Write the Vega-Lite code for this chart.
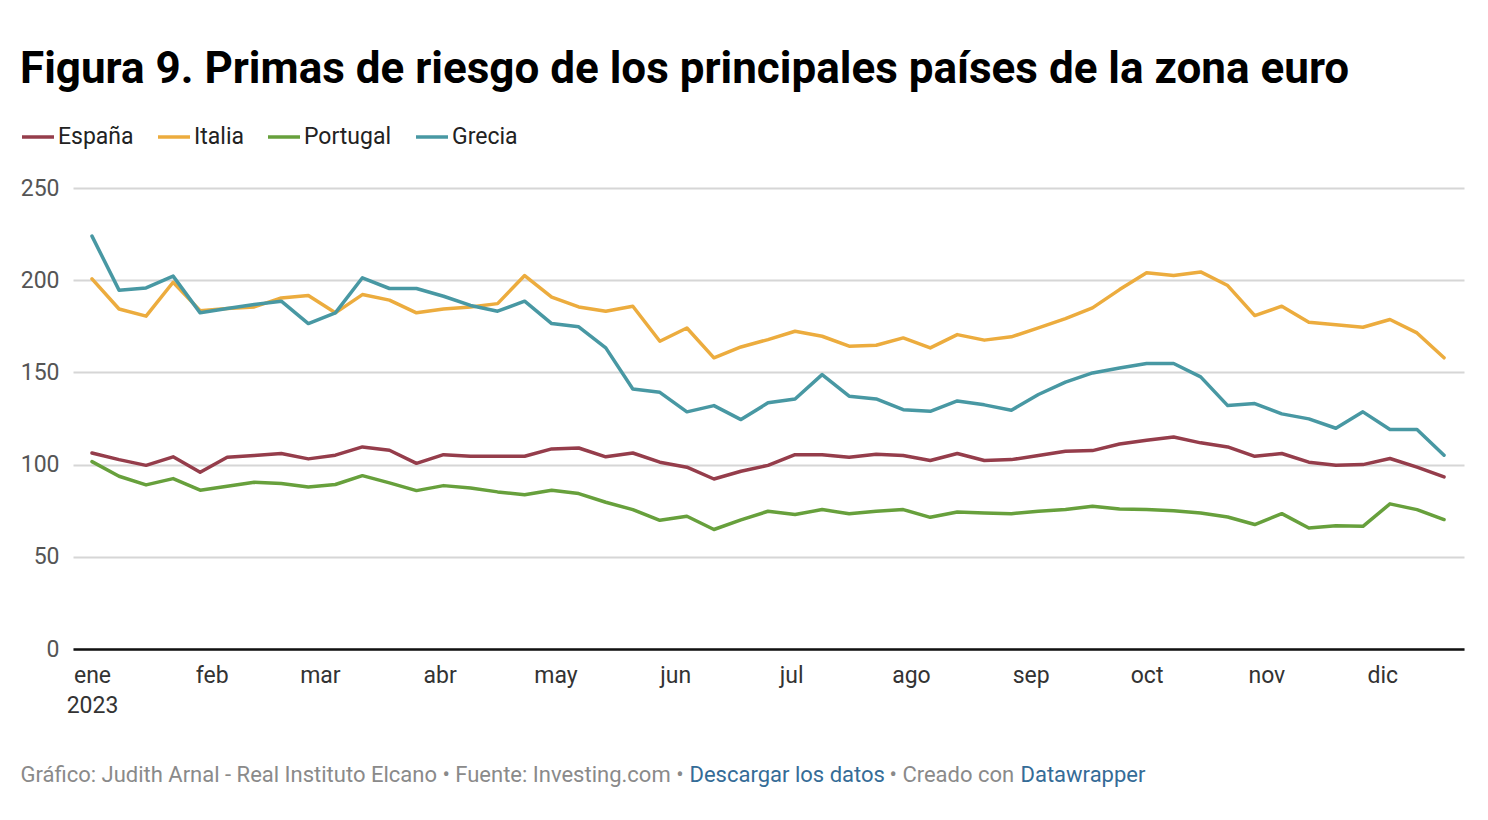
{
  "$schema": "https://vega.github.io/schema/vega-lite/v6.json",
  "width": 1391,
  "height": 461,
  "autosize": "none",
  "padding": {"left": 73, "top": 188, "right": 24, "bottom": 171},
  "background": "#ffffff",
  "title": {
    "text": "Figura 9. Primas de riesgo de los principales países de la zona euro",
    "anchor": "start",
    "frame": "group",
    "orient": "top",
    "dx": -53,
    "offset": 27,
    "font": "Roboto",
    "fontSize": 44,
    "fontWeight": "bold",
    "color": "#000000"
  },
  "data": {
    "values": [
      {"d":"2023-01-01","p":"España","v":106.3},{"d":"2023-01-08","p":"España","v":102.7},{"d":"2023-01-15","p":"España","v":99.6},{"d":"2023-01-22","p":"España","v":104.2},{"d":"2023-01-29","p":"España","v":95.8},{"d":"2023-02-05","p":"España","v":104.0},{"d":"2023-02-12","p":"España","v":104.9},{"d":"2023-02-19","p":"España","v":106.0},{"d":"2023-02-26","p":"España","v":103.1},{"d":"2023-03-05","p":"España","v":105.1},{"d":"2023-03-12","p":"España","v":109.6},{"d":"2023-03-19","p":"España","v":107.8},{"d":"2023-03-26","p":"España","v":100.7},{"d":"2023-04-02","p":"España","v":105.4},{"d":"2023-04-09","p":"España","v":104.5},{"d":"2023-04-16","p":"España","v":104.5},{"d":"2023-04-23","p":"España","v":104.5},{"d":"2023-04-30","p":"España","v":108.5},{"d":"2023-05-07","p":"España","v":109.0},{"d":"2023-05-14","p":"España","v":104.2},{"d":"2023-05-21","p":"España","v":106.3},{"d":"2023-05-28","p":"España","v":101.3},{"d":"2023-06-04","p":"España","v":98.6},{"d":"2023-06-11","p":"España","v":92.2},{"d":"2023-06-18","p":"España","v":96.4},{"d":"2023-06-25","p":"España","v":99.6},{"d":"2023-07-02","p":"España","v":105.4},{"d":"2023-07-09","p":"España","v":105.4},{"d":"2023-07-16","p":"España","v":104.0},{"d":"2023-07-23","p":"España","v":105.6},{"d":"2023-07-30","p":"España","v":104.9},{"d":"2023-08-06","p":"España","v":102.2},{"d":"2023-08-13","p":"España","v":106.0},{"d":"2023-08-20","p":"España","v":102.2},{"d":"2023-08-27","p":"España","v":102.7},{"d":"2023-09-03","p":"España","v":104.9},{"d":"2023-09-10","p":"España","v":107.2},{"d":"2023-09-17","p":"España","v":107.6},{"d":"2023-09-24","p":"España","v":111.2},{"d":"2023-10-01","p":"España","v":113.2},{"d":"2023-10-08","p":"España","v":115.0},{"d":"2023-10-15","p":"España","v":111.8},{"d":"2023-10-22","p":"España","v":109.6},{"d":"2023-10-29","p":"España","v":104.5},{"d":"2023-11-05","p":"España","v":106.0},{"d":"2023-11-12","p":"España","v":101.3},{"d":"2023-11-19","p":"España","v":99.6},{"d":"2023-11-26","p":"España","v":100.0},{"d":"2023-12-03","p":"España","v":103.3},{"d":"2023-12-10","p":"España","v":98.6},{"d":"2023-12-17","p":"España","v":93.3},
      {"d":"2023-01-01","p":"Italia","v":200.7},{"d":"2023-01-08","p":"Italia","v":184.4},{"d":"2023-01-15","p":"Italia","v":180.5},{"d":"2023-01-22","p":"Italia","v":198.9},{"d":"2023-01-29","p":"Italia","v":183.5},{"d":"2023-02-05","p":"Italia","v":184.6},{"d":"2023-02-12","p":"Italia","v":185.5},{"d":"2023-02-19","p":"Italia","v":190.4},{"d":"2023-02-26","p":"Italia","v":191.7},{"d":"2023-03-05","p":"Italia","v":182.3},{"d":"2023-03-12","p":"Italia","v":192.2},{"d":"2023-03-19","p":"Italia","v":189.2},{"d":"2023-03-26","p":"Italia","v":182.3},{"d":"2023-04-02","p":"Italia","v":184.4},{"d":"2023-04-09","p":"Italia","v":185.5},{"d":"2023-04-16","p":"Italia","v":187.3},{"d":"2023-04-23","p":"Italia","v":202.5},{"d":"2023-04-30","p":"Italia","v":190.8},{"d":"2023-05-07","p":"Italia","v":185.5},{"d":"2023-05-14","p":"Italia","v":183.2},{"d":"2023-05-21","p":"Italia","v":185.9},{"d":"2023-05-28","p":"Italia","v":166.9},{"d":"2023-06-04","p":"Italia","v":174.1},{"d":"2023-06-11","p":"Italia","v":157.9},{"d":"2023-06-18","p":"Italia","v":163.8},{"d":"2023-06-25","p":"Italia","v":167.8},{"d":"2023-07-02","p":"Italia","v":172.3},{"d":"2023-07-09","p":"Italia","v":169.6},{"d":"2023-07-16","p":"Italia","v":164.2},{"d":"2023-07-23","p":"Italia","v":164.7},{"d":"2023-07-30","p":"Italia","v":168.7},{"d":"2023-08-06","p":"Italia","v":163.3},{"d":"2023-08-13","p":"Italia","v":170.5},{"d":"2023-08-20","p":"Italia","v":167.5},{"d":"2023-08-27","p":"Italia","v":169.3},{"d":"2023-09-03","p":"Italia","v":174.1},{"d":"2023-09-10","p":"Italia","v":179.2},{"d":"2023-09-17","p":"Italia","v":185.0},{"d":"2023-09-24","p":"Italia","v":194.9},{"d":"2023-10-01","p":"Italia","v":204.0},{"d":"2023-10-08","p":"Italia","v":202.5},{"d":"2023-10-15","p":"Italia","v":204.5},{"d":"2023-10-22","p":"Italia","v":197.1},{"d":"2023-10-29","p":"Italia","v":180.8},{"d":"2023-11-05","p":"Italia","v":185.9},{"d":"2023-11-12","p":"Italia","v":177.2},{"d":"2023-11-19","p":"Italia","v":175.8},{"d":"2023-11-26","p":"Italia","v":174.5},{"d":"2023-12-03","p":"Italia","v":178.7},{"d":"2023-12-10","p":"Italia","v":171.4},{"d":"2023-12-17","p":"Italia","v":157.9},
      {"d":"2023-01-01","p":"Portugal","v":101.6},{"d":"2023-01-08","p":"Portugal","v":93.7},{"d":"2023-01-15","p":"Portugal","v":89.0},{"d":"2023-01-22","p":"Portugal","v":92.4},{"d":"2023-01-29","p":"Portugal","v":86.1},{"d":"2023-02-05","p":"Portugal","v":88.3},{"d":"2023-02-12","p":"Portugal","v":90.4},{"d":"2023-02-19","p":"Portugal","v":89.7},{"d":"2023-02-26","p":"Portugal","v":87.9},{"d":"2023-03-05","p":"Portugal","v":89.2},{"d":"2023-03-12","p":"Portugal","v":94.0},{"d":"2023-03-19","p":"Portugal","v":90.1},{"d":"2023-03-26","p":"Portugal","v":85.9},{"d":"2023-04-02","p":"Portugal","v":88.6},{"d":"2023-04-09","p":"Portugal","v":87.3},{"d":"2023-04-16","p":"Portugal","v":85.2},{"d":"2023-04-23","p":"Portugal","v":83.7},{"d":"2023-04-30","p":"Portugal","v":86.1},{"d":"2023-05-07","p":"Portugal","v":84.3},{"d":"2023-05-14","p":"Portugal","v":79.6},{"d":"2023-05-21","p":"Portugal","v":75.6},{"d":"2023-05-28","p":"Portugal","v":69.8},{"d":"2023-06-04","p":"Portugal","v":72.0},{"d":"2023-06-11","p":"Portugal","v":64.8},{"d":"2023-06-18","p":"Portugal","v":70.0},{"d":"2023-06-25","p":"Portugal","v":74.7},{"d":"2023-07-02","p":"Portugal","v":72.9},{"d":"2023-07-09","p":"Portugal","v":75.6},{"d":"2023-07-16","p":"Portugal","v":73.4},{"d":"2023-07-23","p":"Portugal","v":74.7},{"d":"2023-07-30","p":"Portugal","v":75.6},{"d":"2023-08-06","p":"Portugal","v":71.4},{"d":"2023-08-13","p":"Portugal","v":74.3},{"d":"2023-08-20","p":"Portugal","v":73.8},{"d":"2023-08-27","p":"Portugal","v":73.4},{"d":"2023-09-03","p":"Portugal","v":74.7},{"d":"2023-09-10","p":"Portugal","v":75.6},{"d":"2023-09-17","p":"Portugal","v":77.4},{"d":"2023-09-24","p":"Portugal","v":75.9},{"d":"2023-10-01","p":"Portugal","v":75.6},{"d":"2023-10-08","p":"Portugal","v":75.0},{"d":"2023-10-15","p":"Portugal","v":73.8},{"d":"2023-10-22","p":"Portugal","v":71.6},{"d":"2023-10-29","p":"Portugal","v":67.5},{"d":"2023-11-05","p":"Portugal","v":73.4},{"d":"2023-11-12","p":"Portugal","v":65.6},{"d":"2023-11-19","p":"Portugal","v":66.9},{"d":"2023-11-26","p":"Portugal","v":66.5},{"d":"2023-12-03","p":"Portugal","v":78.7},{"d":"2023-12-10","p":"Portugal","v":75.6},{"d":"2023-12-17","p":"Portugal","v":70.2},
      {"d":"2023-01-01","p":"Grecia","v":223.9},{"d":"2023-01-08","p":"Grecia","v":194.6},{"d":"2023-01-15","p":"Grecia","v":195.8},{"d":"2023-01-22","p":"Grecia","v":202.2},{"d":"2023-01-29","p":"Grecia","v":182.3},{"d":"2023-02-05","p":"Grecia","v":184.6},{"d":"2023-02-12","p":"Grecia","v":186.8},{"d":"2023-02-19","p":"Grecia","v":188.6},{"d":"2023-02-26","p":"Grecia","v":176.5},{"d":"2023-03-05","p":"Grecia","v":182.3},{"d":"2023-03-12","p":"Grecia","v":201.3},{"d":"2023-03-19","p":"Grecia","v":195.5},{"d":"2023-03-26","p":"Grecia","v":195.5},{"d":"2023-04-02","p":"Grecia","v":191.3},{"d":"2023-04-09","p":"Grecia","v":186.3},{"d":"2023-04-16","p":"Grecia","v":183.2},{"d":"2023-04-23","p":"Grecia","v":188.6},{"d":"2023-04-30","p":"Grecia","v":176.5},{"d":"2023-05-07","p":"Grecia","v":174.7},{"d":"2023-05-14","p":"Grecia","v":163.3},{"d":"2023-05-21","p":"Grecia","v":141.0},{"d":"2023-05-28","p":"Grecia","v":139.2},{"d":"2023-06-04","p":"Grecia","v":128.6},{"d":"2023-06-11","p":"Grecia","v":132.0},{"d":"2023-06-18","p":"Grecia","v":124.4},{"d":"2023-06-25","p":"Grecia","v":133.5},{"d":"2023-07-02","p":"Grecia","v":135.6},{"d":"2023-07-09","p":"Grecia","v":148.8},{"d":"2023-07-16","p":"Grecia","v":137.1},{"d":"2023-07-23","p":"Grecia","v":135.6},{"d":"2023-07-30","p":"Grecia","v":129.8},{"d":"2023-08-06","p":"Grecia","v":128.9},{"d":"2023-08-13","p":"Grecia","v":134.5},{"d":"2023-08-20","p":"Grecia","v":132.4},{"d":"2023-08-27","p":"Grecia","v":129.5},{"d":"2023-09-03","p":"Grecia","v":138.0},{"d":"2023-09-10","p":"Grecia","v":144.7},{"d":"2023-09-17","p":"Grecia","v":149.7},{"d":"2023-09-24","p":"Grecia","v":152.4},{"d":"2023-10-01","p":"Grecia","v":154.8},{"d":"2023-10-08","p":"Grecia","v":154.8},{"d":"2023-10-15","p":"Grecia","v":147.6},{"d":"2023-10-22","p":"Grecia","v":132.0},{"d":"2023-10-29","p":"Grecia","v":133.1},{"d":"2023-11-05","p":"Grecia","v":127.5},{"d":"2023-11-12","p":"Grecia","v":124.8},{"d":"2023-11-19","p":"Grecia","v":119.7},{"d":"2023-11-26","p":"Grecia","v":128.6},{"d":"2023-12-03","p":"Grecia","v":119.0},{"d":"2023-12-10","p":"Grecia","v":119.0},{"d":"2023-12-17","p":"Grecia","v":105.1}
    ]
  },
  "resolve": {"axis": {"x": "independent"}},
  "layer": [
    {
      "mark": {"type": "line", "strokeWidth": 3.5, "strokeJoin": "round", "strokeCap": "round"},
      "encoding": {
        "x": {
          "field": "d",
          "type": "temporal",
          "scale": {
            "type": "utc",
            "domain": [
              {"year": 2022, "month": 12, "date": 27, "hours": 2, "utc": true},
              {"year": 2023, "month": 12, "date": 22, "hours": 4, "utc": true}
            ]
          },
          "axis": {
            "orient": "bottom",
            "tickCount": "month",
            "labelExpr": "utcmonth(datum.value) == 0 ? ['ene', '2023'] : ['ene','feb','mar','abr','may','jun','jul','ago','sep','oct','nov','dic'][utcmonth(datum.value)]",
            "labelFont": "Roboto",
            "labelFontSize": 23,
            "labelColor": "#333333",
            "labelPadding": 15,
            "labelLineHeight": 30,
            "labelAlign": "center",
            "labelOverlap": false,
            "labelFlush": false,
            "ticks": false,
            "grid": false,
            "domain": true,
            "domainColor": "#111111",
            "domainWidth": 2.5,
            "title": "Gráfico: Judith Arnal - Real Instituto Elcano • Fuente: Investing.com •",
            "titleX": -53,
            "titleY": 132,
            "titleAlign": "left",
            "titleBaseline": "alphabetic",
            "titleFont": "Roboto",
            "titleFontSize": 22,
            "titleFontWeight": "normal",
            "titleColor": "#8a8a8a"
          }
        },
        "y": {
          "field": "v",
          "type": "quantitative",
          "scale": {"domain": [0, 250], "nice": false},
          "axis": {
            "values": [0, 50, 100, 150, 200, 250],
            "title": null,
            "labelFont": "Roboto",
            "labelFontSize": 23,
            "labelColor": "#555555",
            "labelPadding": 14,
            "ticks": false,
            "domain": false,
            "grid": true,
            "gridColor": "#d6d6d6",
            "gridWidth": 2
          }
        },
        "color": {
          "field": "p",
          "type": "nominal",
          "scale": {
            "domain": ["España", "Italia", "Portugal", "Grecia"],
            "range": ["#953d4b", "#ecac3e", "#67a03c", "#4898a3"]
          },
          "legend": {
            "orient": "none",
            "legendX": -53,
            "legendY": -69,
            "direction": "horizontal",
            "title": null,
            "symbolType": "stroke",
            "symbolSize": 1024,
            "symbolStrokeWidth": 3.5,
            "labelFont": "Roboto",
            "labelFontSize": 23,
            "labelColor": "#222222",
            "labelOffset": 2,
            "columnPadding": 17
          }
        }
      }
    },
    {
      "transform": [{"filter": "false"}],
      "mark": {"type": "line"},
      "encoding": {
        "x": {
          "field": "d",
          "type": "temporal",
          "axis": {
            "orient": "bottom", "labels": false, "ticks": false, "domain": false, "grid": false,
            "title": "Descargar los datos",
            "titleX": 616, "titleY": 132, "titleAlign": "left", "titleBaseline": "alphabetic",
            "titleFont": "Roboto", "titleFontSize": 22, "titleFontWeight": "normal", "titleColor": "#356c97"
          }
        }
      }
    },
    {
      "transform": [{"filter": "false"}],
      "mark": {"type": "line"},
      "encoding": {
        "x": {
          "field": "d",
          "type": "temporal",
          "axis": {
            "orient": "bottom", "labels": false, "ticks": false, "domain": false, "grid": false,
            "title": "• Creado con",
            "titleX": 816, "titleY": 132, "titleAlign": "left", "titleBaseline": "alphabetic",
            "titleFont": "Roboto", "titleFontSize": 22, "titleFontWeight": "normal", "titleColor": "#8a8a8a"
          }
        }
      }
    },
    {
      "transform": [{"filter": "false"}],
      "mark": {"type": "line"},
      "encoding": {
        "x": {
          "field": "d",
          "type": "temporal",
          "axis": {
            "orient": "bottom", "labels": false, "ticks": false, "domain": false, "grid": false,
            "title": "Datawrapper",
            "titleX": 947, "titleY": 132, "titleAlign": "left", "titleBaseline": "alphabetic",
            "titleFont": "Roboto", "titleFontSize": 22, "titleFontWeight": "normal", "titleColor": "#356c97"
          }
        }
      }
    }
  ],
  "config": {
    "view": {"stroke": null},
    "font": "Roboto"
  }
}
